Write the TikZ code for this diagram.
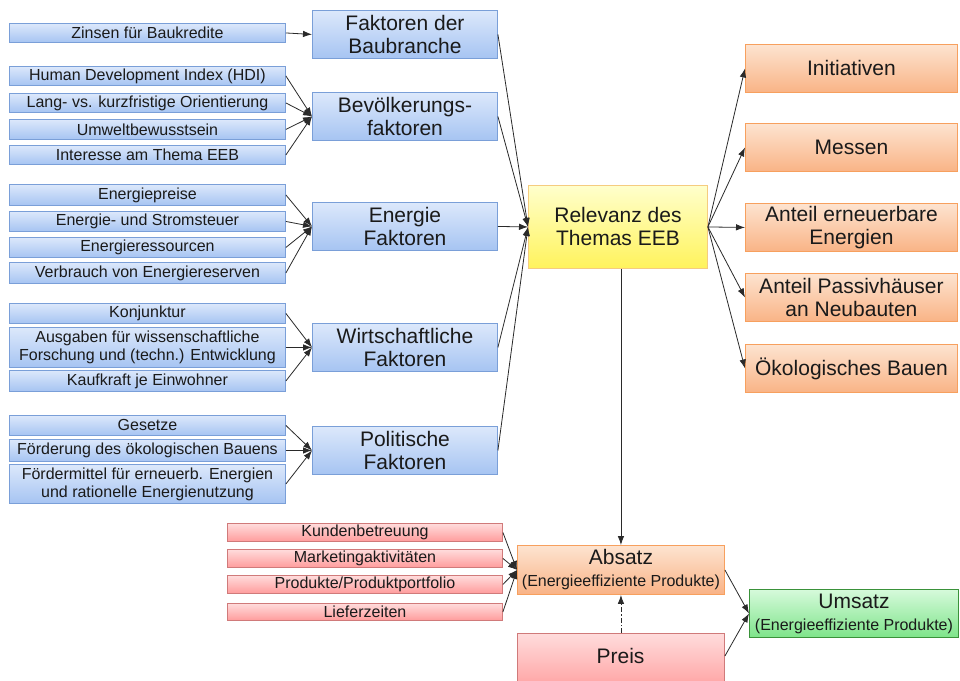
\documentclass[tikz,border=0pt]{standalone}
\usepackage{fontspec}
\setmainfont{Liberation Sans}
\usetikzlibrary{arrows.meta}
\definecolor{bluet}{HTML}{DCE8FB}
\definecolor{blueb}{HTML}{A6C4F2}
\definecolor{bluebd}{HTML}{7A9FD8}
\definecolor{oranget}{HTML}{FDE4D0}
\definecolor{orangeb}{HTML}{F9B386}
\definecolor{orangebd}{HTML}{F7A05E}
\definecolor{yelt}{HTML}{FFFFCC}
\definecolor{yelb}{HTML}{FFF35C}
\definecolor{yelbd}{HTML}{F5CC80}
\definecolor{redt}{HTML}{FFDCDC}
\definecolor{redb}{HTML}{FF9C9C}
\definecolor{redbd}{HTML}{D07A7A}
\definecolor{greent}{HTML}{D6FADB}
\definecolor{greenb}{HTML}{7EE48A}
\definecolor{greenbd}{HTML}{3A923A}
\definecolor{txt}{HTML}{1A1A1A}
\definecolor{linec}{HTML}{2A2A2A}
\begin{document}
\begin{tikzpicture}[x=1pt,y=-1pt,
  base/.style={rectangle, anchor=north west, inner sep=0pt, align=center, text=txt, line width=0.9pt},
  bluefill/.style={draw=bluebd, top color=bluet, bottom color=blueb},
  sb/.style={base, bluefill, font=\fontsize{16}{18}\selectfont, minimum width=276pt},
  mb/.style={base, bluefill, font=\fontsize{21}{23}\selectfont, minimum width=185pt, minimum height=48pt},
  ob/.style={base, draw=orangebd, top color=oranget, bottom color=orangeb, font=\fontsize{21}{23}\selectfont, minimum width=212pt, minimum height=48pt},
  rb/.style={base, draw=redbd, top color=redt, bottom color=redb, font=\fontsize{16}{18}\selectfont, minimum width=275pt},
  twoline/.style={base, font=\fontsize{16}{22}\selectfont},
  arr/.style={draw=linec, line width=0.8pt, -{Latex[length=9pt,width=6.5pt]}},
  dashdotarr/.style={arr, dash pattern=on 5pt off 2pt on 1.5pt off 2pt}
]
\clip (0,0) rectangle (960,680);
\fill[white] (0,0) rectangle (960,680);

% small blue boxes
\node[sb, minimum height=19pt] (zins) at (9,23) {Zinsen für Baukredite};
\node[sb, minimum height=19pt] (hdi) at (9,66) {Human Development Index (HDI)};
\node[sb, minimum height=19pt] (lang) at (9,93) {Lang- vs. kurzfristige Orientierung};
\node[sb, minimum height=20pt] (umw) at (9,119) {Umweltbewusstsein};
\node[sb, minimum height=19pt] (inter) at (9,145) {Interesse am Thema EEB};
\node[sb, minimum height=21pt] (epr) at (9,184) {Energiepreise};
\node[sb, minimum height=20pt] (est) at (9,211) {Energie- und Stromsteuer};
\node[sb, minimum height=20pt] (eres) at (9,237) {Energieressourcen};
\node[sb, minimum height=21pt] (verb) at (9,262) {Verbrauch von Energiereserven};
\node[sb, minimum height=20pt] (konj) at (9,303) {Konjunktur};
\node[sb, minimum height=40pt] (ausg) at (9,327) {Ausgaben für wissenschaftliche\\Forschung und (techn.) Entwicklung};
\node[sb, minimum height=21pt] (kauf) at (9,370) {Kaufkraft je Einwohner};
\node[sb, minimum height=20pt] (ges) at (9,415) {Gesetze};
\node[sb, minimum height=22pt] (foerd) at (9,439) {Förderung des ökologischen Bauens};
\node[sb, minimum height=39pt] (fmit) at (9,464) {Fördermittel für erneuerb. Energien\\und rationelle Energienutzung};

% middle blue boxes
\node[mb] (baub) at (312,10) {Faktoren der\\Baubranche};
\node[mb] (bev) at (312,92) {Bevölkerungs-\\faktoren};
\node[mb] (enf) at (312,202) {Energie\\Faktoren};
\node[mb] (wirt) at (312,323) {Wirtschaftliche\\Faktoren};
\node[mb] (pol) at (312,426) {Politische\\Faktoren};

% central
\node[base, draw=yelbd, top color=yelt, bottom color=yelb, font=\fontsize{21}{23}\selectfont, minimum width=179pt, minimum height=83pt] (rel) at (528,185) {Relevanz des\\Themas EEB};

% right orange boxes
\node[ob] (init) at (745,44) {Initiativen};
\node[ob] (mess) at (745,123) {Messen};
\node[ob] (aner) at (745,203) {Anteil erneuerbare\\Energien};
\node[ob] (pass) at (745,273) {Anteil Passivhäuser\\an Neubauten};
\node[ob] (oeko) at (745,344) {Ökologisches Bauen};

% red small boxes
\node[rb, minimum height=18pt] (kund) at (227,523) {Kundenbetreuung};
\node[rb, minimum height=18pt] (mark) at (227,549) {Marketingaktivitäten};
\node[rb, minimum height=18pt] (prod) at (227,575) {Produkte/Produktportfolio};
\node[rb, minimum height=17pt] (lief) at (227,603) {Lieferzeiten};

% bottom boxes
\node[twoline, draw=orangebd, top color=oranget, bottom color=orangeb, minimum width=207pt, minimum height=49pt] (abs) at (517,545)
  {{\fontsize{21}{22}\selectfont Absatz}\\(Energieeffiziente Produkte)};
\node[base, draw=redbd, top color=redt, bottom color=redb, minimum width=207pt, minimum height=60pt] (pre) at (517,633) {};
\node[font=\fontsize{21}{23}\selectfont, text=txt] (pret) at (620.5,656) {Preis};
\node[twoline, draw=greenbd, top color=greent, bottom color=greenb, minimum width=209pt, minimum height=48pt] (ums) at (749,589)
  {{\fontsize{21}{22}\selectfont Umsatz}\\(Energieeffiziente Produkte)};

% connectors: small -> middle
\draw[arr] (zins.east) -- (baub.west);
\foreach \s in {hdi,lang,umw,inter} \draw[arr] (\s.east) -- (bev.west);
\foreach \s in {epr,est,eres,verb} \draw[arr] (\s.east) -- (enf.west);
\foreach \s in {konj,ausg,kauf} \draw[arr] (\s.east) -- (wirt.west);
\foreach \s in {ges,foerd,fmit} \draw[arr] (\s.east) -- (pol.west);

% middle -> relevanz
\foreach \s in {baub,bev,enf,wirt,pol} \draw[arr] (\s.east) -- (rel.west);

% relevanz -> right
\foreach \s in {init,mess,aner,pass,oeko} \draw[arr] (rel.east) -- (\s.west);

% red -> absatz
\foreach \s in {kund,mark,prod,lief} \draw[arr] (\s.east) -- (abs.west);

% relevanz -> absatz
\draw[arr] (rel.south -| abs.north) -- (abs.north);
% preis -> absatz
\draw[dashdotarr] (pre.north) -- (abs.south);
% -> umsatz
\draw[arr] (abs.east) -- (ums.west);
\draw[arr] ([yshift=-23pt]pre.north east) -- (ums.west);
\end{tikzpicture}
\end{document}
